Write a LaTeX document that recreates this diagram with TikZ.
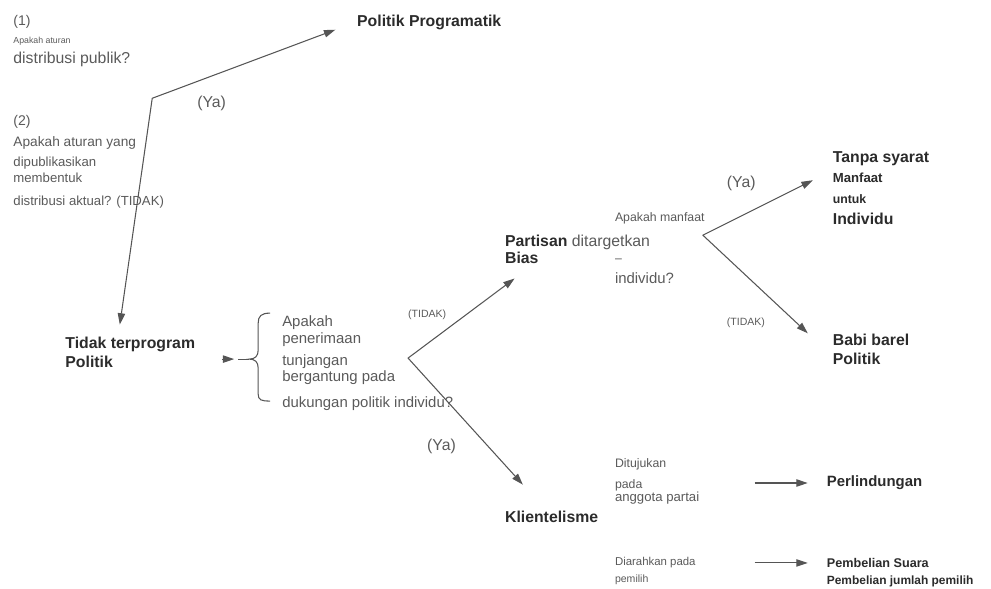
\documentclass[tikz,border=0pt]{standalone}
\usepackage{fontspec}
\setmainfont{Liberation Sans}
\usepackage{tikz}
\usetikzlibrary{arrows.meta}
\definecolor{mytext}{HTML}{2B2B2B}
\definecolor{mygray}{HTML}{5A5A5A}
\definecolor{myline}{HTML}{555555}
\tikzset{
	boldtext/.style={anchor=west, inner sep=1pt, text=mytext, font=\fontsize{9}{11}\selectfont\bfseries}
}
\tikzset{
	sizedbold/.style={anchor=west, inner sep=1pt, text=mytext, font=\fontsize{#1}{#1}\selectfont\bfseries}
}
\tikzset{
	plaintext/.style={anchor=west, inner sep=1pt, text=mygray, font=\fontsize{8.5}{10}\selectfont}
}
\tikzset{
	sizedtext/.style={anchor=west, inner sep=1pt, text=mygray, font=\fontsize{#1}{#1}\selectfont}
}
\tikzset{
	ptr/.style={draw=myline, line width=0.6pt, -{Triangle[length=6.5pt,width=4.2pt]}}
}
\tikzset{
	twoway/.style={draw=myline, line width=0.6pt, line join=round, {Triangle[length=6.5pt,width=4.2pt]}-{Triangle[length=6.5pt,width=4.2pt]}}
}

\begin{document}
\begin{tikzpicture}[x=0.02cm, y=-0.02cm]
\draw[opacity=0] (0,0) rectangle (991,587);

\coordinate (jA) at (152,98);
\coordinate (jB) at (408,358);
\coordinate (jC) at (703,235);
\coordinate (brtip) at (249,359);

% pertanyaan (1) dan (2)
\node[sizedtext=8] (qA) at (11,22) {(1)};
\node[sizedtext=5] (qAa) at (11,41) {Apakah aturan};
\node[sizedtext=9] (qAb) at (11,59) {distribusi publik?};
\node[sizedtext=8] (qB) at (11,122) {(2)};
\node[sizedtext=7.8] (qBa) at (11,143) {Apakah aturan yang};
\node[sizedtext=7.5] (qBb) at (11,163) {dipublikasikan};
\node[sizedtext=7.5] (qBc) at (11,178) {membentuk};
\node[sizedtext=7.5] (qBd) at (11,202) {distribusi aktual? (TIDAK)};
\node[sizedtext=9] (yaA) at (195,103) {(Ya)};

\node[boldtext] (progpol) at (355,22) {Politik Programatik};
\node[boldtext, align=left] (tidakprog) at (63,352) {Tidak terprogram\\Politik};

% kurung kurawal
\node[plaintext] (brA) at (280,323) {Apakah};
\node[plaintext] (brB) at (280,340) {penerimaan};
\node[plaintext] (brC) at (280,362) {tunjangan};
\node[plaintext] (brD) at (280,378) {bergantung pada};
\node[plaintext] (brE) at (280,404) {dukungan politik individu?};
\node[sizedtext=6] (tidakB) at (406,315) {(TIDAK)};
\node[sizedtext=9] (yaB) at (425,446) {(Ya)};

\node[boldtext] (partisan) at (503,242) {Partisan {\mdseries\color{mygray}ditargetkan}};
\node[boldtext] (bias) at (503,258) {Bias};
\node[sizedtext=7] (garis) at (613,261) {–};
\node[plaintext] (indivQ) at (613,278) {individu?};
\node[sizedtext=7] (manfaatQ) at (613,218) {Apakah manfaat};
\node[sizedtext=9] (yaC) at (725,183) {(Ya)};
\node[sizedtext=6] (tidakC) at (725,323) {(TIDAK)};

\node[boldtext] (tanpa) at (831,158) {Tanpa syarat};
\node[sizedbold=7.5] (manfaat) at (831,178) {Manfaat};
\node[sizedbold=7] (untuk) at (831,199) {untuk};
\node[boldtext] (indiv) at (831,219) {Individu};
\node[boldtext, align=left] (babi) at (831,349) {Babi barel\\Politik};

\node[boldtext] (klien) at (503,517) {Klientelisme};
\node[sizedtext=7] (tujuA) at (613,464) {Ditujukan};
\node[sizedtext=7] (tujuB) at (613,485) {pada};
\node[sizedtext=7.5] (tujuC) at (613,498) {anggota partai};
\node[sizedbold=8.5] (perl) at (825,483) {Perlindungan};
\node[sizedtext=6.5] (arahA) at (613,563) {Diarahkan pada};
\node[sizedtext=6] (arahB) at (613,580) {pemilih};
\node[sizedbold=7.2] (pemb) at (825,563) {Pembelian Suara};
\node[sizedbold=6.8] (pembB) at (825,581) {Pembelian jumlah pemilih};

\draw[twoway, shorten <=5.7pt, shorten >=12pt] (tidakprog.124) -- (jA) -- (progpol.west);
\draw[twoway, shorten <=11.8pt, shorten >=18.8pt] (bias.-40) -- (jB) -- (klien.130);
\draw[twoway, shorten <=11.4pt, shorten >=17.9pt] (manfaat.north west) -- (jC) -- (babi.188);

\draw[draw=myline, line width=0.6pt] (270,313) .. controls (261,313) and (258,316) .. (258,323) -- (258,350) .. controls (258,356) and (255,359) .. (brtip) .. controls (255,359) and (258,362) .. (258,368) -- (258,394) .. controls (258,400) and (261,401) .. (270,401);
\draw[draw=myline, line width=0.6pt] (brtip) -- ++(-11,0);
\draw[ptr, shorten <=14pt, shorten >=8.5pt] (tidakprog.east |- brtip) -- (brtip);

\draw[ptr, shorten >=9.7pt] ([xshift=-40pt]perl.west) -- (perl.west);
\draw[ptr, shorten >=9.7pt] ([xshift=-40pt]pemb.west) -- (pemb.west);

\end{tikzpicture}
\end{document}
